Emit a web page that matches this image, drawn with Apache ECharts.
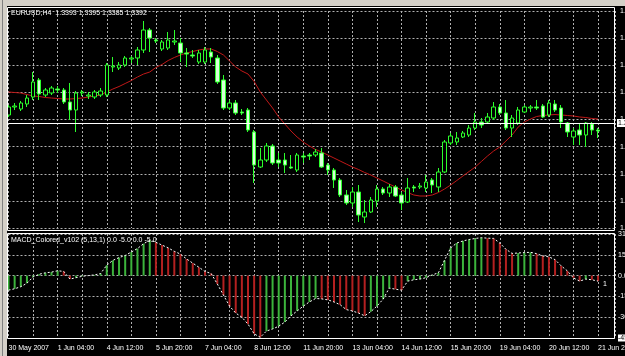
<!DOCTYPE html>
<html><head><meta charset="utf-8">
<script src="https://cdn.jsdelivr.net/npm/echarts@6/dist/echarts.min.js"></script>
<style>html,body{margin:0;padding:0;background:#000;}#c{width:625px;height:356px;}</style>
</head><body><div id="c"></div>
<script>
const symbolName = 'EURUSD,H4';
const macdTitle = 'MACD_Colored_v102 (5,13,1) 0.0 -5.0 0.0 -5.0';
const timeLabels = ['30 May 2007','1 Jun 04:00','4 Jun 12:00','5 Jun 20:00','7 Jun 04:00','8 Jun 12:00','11 Jun 20:00','13 Jun 04:00','14 Jun 12:00','15 Jun 20:00','19 Jun 04:00','20 Jun 12:00','21 Jun 20:00'];
const opens = [1.3408,1.3416,1.3414,1.3419,1.3426,1.3443,1.3428,1.3430,1.3434,1.3433,
1.3421,1.3413,1.3430,1.3427,1.3426,1.3428,1.3428,1.3456,1.3455,1.3458,
1.3464,1.3465,1.3473,1.3493,1.3483,1.3474,1.3475,1.3481,1.3480,1.3470,
1.3468,1.3461,1.3461,1.3471,1.3465,1.3443,1.3415,1.3420,1.3411,1.3413,
1.3391,1.3356,1.3363,1.3377,1.3363,1.3363,1.3356,1.3353,1.3367,1.3368,
1.3368,1.3370,1.3358,1.3353,1.3343,1.3328,1.3320,1.3331,1.3306,1.3311,
1.3322,1.3334,1.3330,1.3336,1.3328,1.3321,1.3336,1.3336,1.3335,1.3343,
1.3336,1.3351,1.3380,1.3381,1.3386,1.3388,1.3395,1.3401,1.3401,1.3405,
1.3416,1.3410,1.3395,1.3400,1.3411,1.3415,1.3416,1.3417,1.3408,1.3419,
1.3415,1.3400,1.3386,1.3393,1.3388,1.3399,1.3393];
const closes = [1.3416,1.3417,1.3420,1.3425,1.3441,1.3429,1.3433,1.3435,1.3433,1.3421,
1.3413,1.3430,1.3431,1.3428,1.3431,1.3432,1.3458,1.3457,1.3458,1.3465,
1.3465,1.3473,1.3493,1.3485,1.3482,1.3481,1.3483,1.3482,1.3470,1.3469,
1.3467,1.3470,1.3473,1.3466,1.3441,1.3415,1.3420,1.3410,1.3410,1.3393,
1.3358,1.3363,1.3377,1.3360,1.3360,1.3358,1.3355,1.3368,1.3366,1.3367,
1.3371,1.3356,1.3353,1.3343,1.3328,1.3320,1.3331,1.3308,1.3311,1.3323,
1.3334,1.3330,1.3336,1.3327,1.3320,1.3335,1.3335,1.3337,1.3341,1.3338,
1.3351,1.3381,1.3387,1.3385,1.3390,1.3395,1.3401,1.3398,1.3406,1.3416,
1.3410,1.3395,1.3405,1.3413,1.3416,1.3416,1.3415,1.3406,1.3420,1.3413,
1.3401,1.3391,1.3392,1.3388,1.3400,1.3393,1.3392];
const lows = [1.3406,1.3413,1.3412,1.3416,1.3423,1.3423,1.3426,1.3428,1.3430,1.3419,
1.3403,1.3391,1.3427,1.3424,1.3424,1.3426,1.3426,1.3451,1.3453,1.3456,
1.3460,1.3458,1.3470,1.3471,1.3480,1.3472,1.3473,1.3478,1.3461,1.3456,
1.3465,1.3459,1.3459,1.3460,1.3439,1.3413,1.3413,1.3408,1.3408,1.3391,
1.3340,1.3355,1.3361,1.3358,1.3356,1.3350,1.3354,1.3351,1.3360,1.3363,
1.3366,1.3355,1.3348,1.3335,1.3326,1.3318,1.3316,1.3301,1.3300,1.3310,
1.3316,1.3328,1.3326,1.3326,1.3313,1.3320,1.3331,1.3334,1.3331,1.3330,
1.3331,1.3350,1.3378,1.3378,1.3385,1.3386,1.3393,1.3395,1.3400,1.3403,
1.3408,1.3393,1.3386,1.3398,1.3410,1.3411,1.3413,1.3405,1.3406,1.3411,
1.3395,1.3386,1.3378,1.3378,1.3376,1.3388,1.3385];
const highs = [1.3418,1.3420,1.3422,1.3428,1.3451,1.3445,1.3435,1.3437,1.3437,1.3435,
1.3440,1.3432,1.3433,1.3431,1.3433,1.3435,1.3460,1.3466,1.3461,1.3467,
1.3467,1.3476,1.3502,1.3495,1.3485,1.3483,1.3491,1.3493,1.3485,1.3475,
1.3473,1.3473,1.3476,1.3475,1.3468,1.3448,1.3423,1.3423,1.3414,1.3415,
1.3393,1.3375,1.3380,1.3379,1.3370,1.3370,1.3368,1.3370,1.3370,1.3370,
1.3374,1.3375,1.3360,1.3355,1.3345,1.3333,1.3336,1.3338,1.3323,1.3326,
1.3338,1.3336,1.3339,1.3338,1.3331,1.3345,1.3338,1.3340,1.3348,1.3345,
1.3355,1.3383,1.3390,1.3391,1.3392,1.3398,1.3410,1.3405,1.3410,1.3421,
1.3419,1.3423,1.3408,1.3416,1.3418,1.3418,1.3423,1.3419,1.3423,1.3423,
1.3418,1.3401,1.3395,1.3400,1.3401,1.3401,1.3395];
const maValues = [1.3431,1.34305,1.3430,1.34285,1.3427,1.34265,1.34255,1.3425,1.34245,1.3424,
1.3424,1.34245,1.3425,1.3426,1.3427,1.3428,1.3431,1.3434,1.34365,1.34395,
1.34425,1.3446,1.3449,1.3451,1.34555,1.34585,1.34625,1.34655,1.3468,1.3470,
1.34715,1.3473,1.3474,1.3474,1.34715,1.3468,1.3462,1.3456,1.3452,1.3449,
1.34415,1.3431,1.3423,1.3415,1.3406,1.3399,1.3392,1.3386,1.3381,1.3377,
1.33735,1.3371,1.3368,1.3365,1.3362,1.3359,1.3356,1.33535,1.33505,1.3348,
1.3345,1.3342,1.3339,1.3336,1.3333,1.33305,1.3328,1.3327,1.3327,1.3328,
1.33305,1.3334,1.3338,1.33425,1.3347,1.33515,1.3356,1.33615,1.3367,1.3372,
1.3376,1.3382,1.3388,1.3396,1.3401,1.3404,1.34065,1.34075,1.3408,1.34085,
1.3408,1.34075,1.3407,1.3406,1.34055,1.34045,1.3404];
const macdValues = [-10.5,-9.5,-8,-5.5,-1,1,2,2.5,3.5,3,
-2.5,-1.5,-0.5,0,0.5,1.5,7.5,11,13,14.5,
17,19.5,23,25.5,24,22,20,17.5,15.5,12,
9,6,3,1.5,-6,-14,-22,-27,-30,-35,
-42,-44.5,-40,-38.5,-36.5,-33.5,-29,-25.5,-22,-19,
-16.5,-16.8,-17.5,-19,-21,-24.5,-25.5,-27,-29,-26,
-22,-17,-9,-9.8,-10.5,-4,-3,-2.5,-1.5,0.5,
2,11,20,23.5,25,26,26.8,27.3,27,26.8,
23.5,19,16,16.3,16.6,16.8,15.8,14.2,13.5,11.5,
7,3.4,-1.7,-4,-2.5,-3,-4];
const macdAxisLabels = {'30':'31.5','15':'15','0':'0.0','-15':'-15','-30':'-30','-45':'-45.0'};

const N = closes.length;
const fmt = v => v.toFixed(4);
const FONT = 'Liberation Sans';
const gridLine = {show:true, lineStyle:{color:'#b0b0b0', type:[2,2], width:1}};
const xMax = 98.76;

function xAxis(gi, labels){
  return {type:'value', gridIndex:gi, min:0, max:xMax, interval:4,
    axisLine:{show:false}, axisTick:{show:false}, splitLine:gridLine,
    axisLabel: labels ? {show:true, color:'#fff', fontSize:7, fontFamily:FONT, align:'left', margin:7,
      hideOverlap:false, showMinLabel:true, showMaxLabel:true,
      formatter: v => { const k = v/8; return (Number.isInteger(k) && k < timeLabels.length) ? timeLabels[k] : ''; }}
      : {show:false}};
}

const candleData = opens.map((o,i)=>[i, o, closes[i], lows[i], highs[i]]);
const maData = maValues.map((v,i)=>[i, v]);
const macdBars = macdValues.map((v,i)=>({
  value:[i, v],
  itemStyle:{color: (i===0 || v >= macdValues[i-1]) ? '#3cb43c' : '#b42020'}
}));
const macdLine = macdValues.map((v,i)=>[i, v]);

const chart = echarts.init(document.getElementById('c'), null, {renderer:'canvas'});
chart.setOption({
  backgroundColor:'#000',
  animation:false,
  grid:[
    {left:8.5, right:10, top:11, height:217, containLabel:false, outerBoundsMode:'none'},
    {left:8.5, right:10, top:234, height:104, containLabel:false, outerBoundsMode:'none'}
  ],
  xAxis:[xAxis(0,false), xAxis(1,true)],
  yAxis:[
    {type:'value', gridIndex:0, position:'right', min:1.3295, max:1.3512, interval:0.0027125,
      axisLine:{show:false}, axisTick:{show:false}, splitLine:gridLine,
      axisLabel:{color:'#fff', fontSize:7, fontFamily:FONT, margin:5, formatter:v=>fmt(v)}},
    {type:'value', gridIndex:1, position:'right', min:-45, max:30, interval:15,
      axisLine:{show:false}, axisTick:{show:false}, splitLine:gridLine,
      axisLabel:{color:'#fff', fontSize:7, fontFamily:FONT, margin:3,
        formatter:v=>{const t = macdAxisLabels[String(Math.round(v))]; return v===-45 ? '{b|'+t+'}' : (t||'');},
        rich:{b:{backgroundColor:'#fff', color:'#000', fontSize:7, fontFamily:FONT}}}}
  ],
  series:[
    {type:'line', xAxisIndex:0, yAxisIndex:0, data:maData, symbol:'none', smooth:false,
      lineStyle:{color:'#c01818', width:1}, z:2, silent:true},
    {type:'candlestick', xAxisIndex:0, yAxisIndex:0, clip:false, barWidth:4,
      dimensions:['idx','open','close','lowest','highest'],
      encode:{x:'idx', y:['open','close','lowest','highest']},
      data:candleData, z:3,
      itemStyle:{color:'#000', color0:'#d8ffd8', borderColor:'#2cff2c', borderColor0:'#2cff2c', borderWidth:1},
      markLine:{silent:true, symbol:['none','none'], animation:false,
        lineStyle:{color:'#ffffff', type:'solid', width:1},
        label:{show:true, position:'end', distance:2, formatter:fmt(closes[N-1]),
          backgroundColor:'#fff', color:'#000', fontSize:7, fontFamily:FONT, padding:[1,1,0,1]},
        data:[{yAxis:closes[N-1]}]}},
    {type:'bar', xAxisIndex:1, yAxisIndex:1, data:macdBars, barWidth:2, z:2, silent:true},
    {type:'line', xAxisIndex:1, yAxisIndex:1, data:macdLine, symbol:'none',
      lineStyle:{color:'#ffffff', width:1, type:[2,2]}, z:3, silent:true}
  ],
  graphic:[
    {type:'rect', shape:{x:0,y:0,width:7,height:356}, style:{fill:'#d4d0c8'}, z:100},
    {type:'rect', shape:{x:0,y:0,width:625,height:6}, style:{fill:'#d4d0c8'}, z:100},
    {type:'line', shape:{x1:2.5,y1:0,x2:2.5,y2:356}, style:{stroke:'#808080', lineWidth:1}, z:101},
    {type:'rect', shape:{x:7.5,y:7.5,width:607,height:223}, style:{fill:'none', stroke:'#ffffff', lineWidth:1}, z:100},
    {type:'rect', shape:{x:7.5,y:233.5,width:607,height:105}, style:{fill:'none', stroke:'#ffffff', lineWidth:1}, z:100},
    {type:'text', x:11, y:10, z:101, style:{text: symbolName+'  '+fmt(opens[N-1])+' '+fmt(highs[N-1])+' '+fmt(lows[N-1])+' '+fmt(closes[N-1]),
      fill:'#fff', fontSize:7, fontFamily:FONT, verticalAlign:'top'}},
    {type:'text', x:11, y:236.5, z:101, style:{text: macdTitle, fill:'#fff', fontSize:7, fontFamily:FONT, verticalAlign:'top'}},
    {type:'text', x:603, y:281, z:101, style:{text:'1', fill:'#fff', fontSize:7, fontFamily:FONT, verticalAlign:'top'}}
  ]
});
</script></body></html>
